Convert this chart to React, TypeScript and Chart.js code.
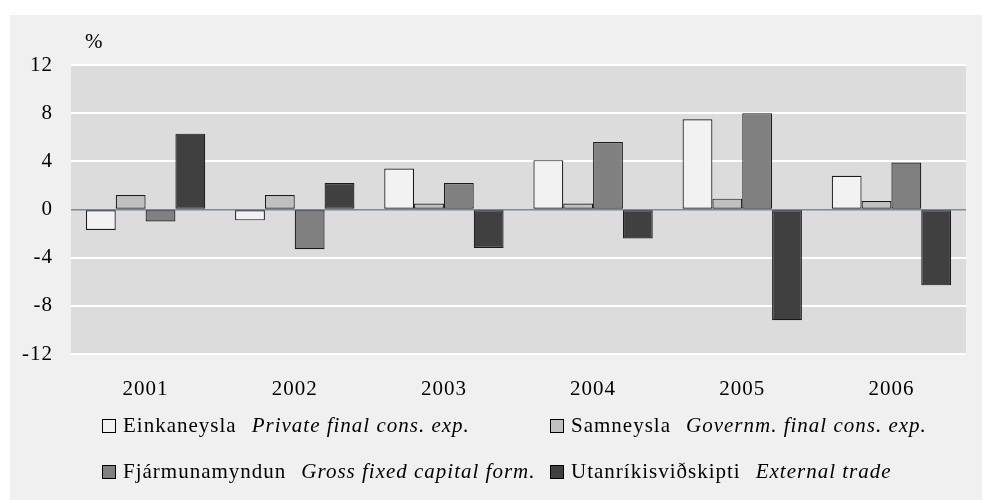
import React, { useEffect, useRef } from "react";
import { Chart, registerables } from "chart.js";

Chart.register(...registerables);

const categories = ["2001", "2002", "2003", "2004", "2005", "2006"];
const seriesIs = ["Einkaneysla", "Samneysla", "Fjármunamyndun", "Utanríkisviðskipti"];
const seriesEn = [
  "Private final cons. exp.",
  "Governm. final cons. exp.",
  "Gross fixed capital form.",
  "External trade",
];
const privateCons = [-1.7, -0.9, 3.4, 4.1, 7.5, 2.8];
const governmentCons = [1.2, 1.2, 0.5, 0.5, 0.9, 0.7];
const capitalForm = [-1.0, -3.3, 2.2, 5.6, 8.0, 3.9];
const externalTrade = [6.3, 2.2, -3.2, -2.4, -9.2, -6.3];
const yMin = -12;
const yMax = 12;
const yStep = 4;
const unitLabel = "%";

const seriesValues = [privateCons, governmentCons, capitalForm, externalTrade];
const colors = ["#f2f2f2", "#c0c0c0", "#808080", "#404040"];
const FONT = "'Liberation Serif', 'Times New Roman', serif";

const bgPlugin = {
  id: "bgPlugin",
  beforeDraw(chart: any) {
    const { ctx, chartArea } = chart;
    ctx.letterSpacing = "1px";
    ctx.save();
    ctx.fillStyle = "#dcdcdc";
    ctx.fillRect(
      chartArea.left,
      chartArea.top,
      chartArea.right - chartArea.left,
      chartArea.bottom - chartArea.top
    );
    ctx.restore();
  },
};

export default function App() {
  const canvasRef = useRef<HTMLCanvasElement | null>(null);

  useEffect(() => {
    if (!canvasRef.current) return;
    const chart = new Chart(canvasRef.current, {
      type: "bar",
      data: {
        labels: categories,
        datasets: seriesValues.map((vals, i) => ({
          label: seriesIs[i],
          data: vals,
          backgroundColor: colors[i],
          borderColor: "#1a1a1a",
          borderWidth: 1.2,
          borderSkipped: false,
          categoryPercentage: 0.8,
          barPercentage: 1.0,
        })),
      },
      options: {
        animation: false,
        responsive: false,
        layout: { padding: { top: 65, right: 16, left: 0, bottom: 0 } },
        plugins: {
          legend: { display: false },
          tooltip: { enabled: false },
        },
        scales: {
          x: {
            grid: { display: false, drawTicks: false },
            border: { display: false },
            ticks: {
              color: "#000",
              font: { family: FONT, size: 21 },
              padding: 23,
            },
            afterFit: (scale: any) => {
              scale.height = 146;
            },
          },
          y: {
            min: yMin,
            max: yMax,
            border: { display: false },
            grid: {
              drawTicks: false,
              color: (ctx: any) => (ctx.tick && ctx.tick.value === 0 ? "#7d8898" : "#ffffff"),
              lineWidth: (ctx: any) => (ctx.tick && ctx.tick.value === 0 ? 1.5 : 2),
            },
            ticks: {
              stepSize: yStep,
              color: "#000",
              font: { family: FONT, size: 21 },
              padding: 18,
            },
            afterFit: (scale: any) => {
              scale.width = 71;
            },
          },
        },
      },
      plugins: [bgPlugin],
    });
    return () => chart.destroy();
  }, []);

  const textStyle: React.CSSProperties = {
    fontFamily: FONT,
    fontSize: 21,
    letterSpacing: "1px",
    color: "#000",
    whiteSpace: "nowrap",
  };

  return (
    <div style={{ position: "fixed", left: 0, top: 0, width: 982, height: 500, background: "#fff" }}>
      <div
        style={{ position: "absolute", left: 10, top: 15, width: 972, height: 485, background: "#f0f0f0" }}
      />
      <canvas
        ref={canvasRef}
        width={982}
        height={500}
        style={{ position: "absolute", left: 0, top: 0, width: 982, height: 500 }}
      />
      <div style={{ ...textStyle, position: "absolute", left: 85, top: 29, lineHeight: "24px" }}>
        {unitLabel}
      </div>
      {seriesIs.map((name, i) => (
        <div
          key={name}
          style={{
            ...textStyle,
            position: "absolute",
            left: i % 2 === 0 ? 102 : 550,
            top: 413 + Math.floor(i / 2) * 46,
            lineHeight: "24px",
            display: "flex",
            alignItems: "center",
          }}
        >
          <span
            style={{
              display: "inline-block",
              width: 12,
              height: 12,
              border: "1px solid #000",
              background: colors[i],
              marginRight: 7,
              marginTop: 2,
            }}
          />
          <span>{name}</span>
          <span style={{ fontStyle: "italic", marginLeft: 15 }}>{seriesEn[i]}</span>
        </div>
      ))}
    </div>
  );
}
